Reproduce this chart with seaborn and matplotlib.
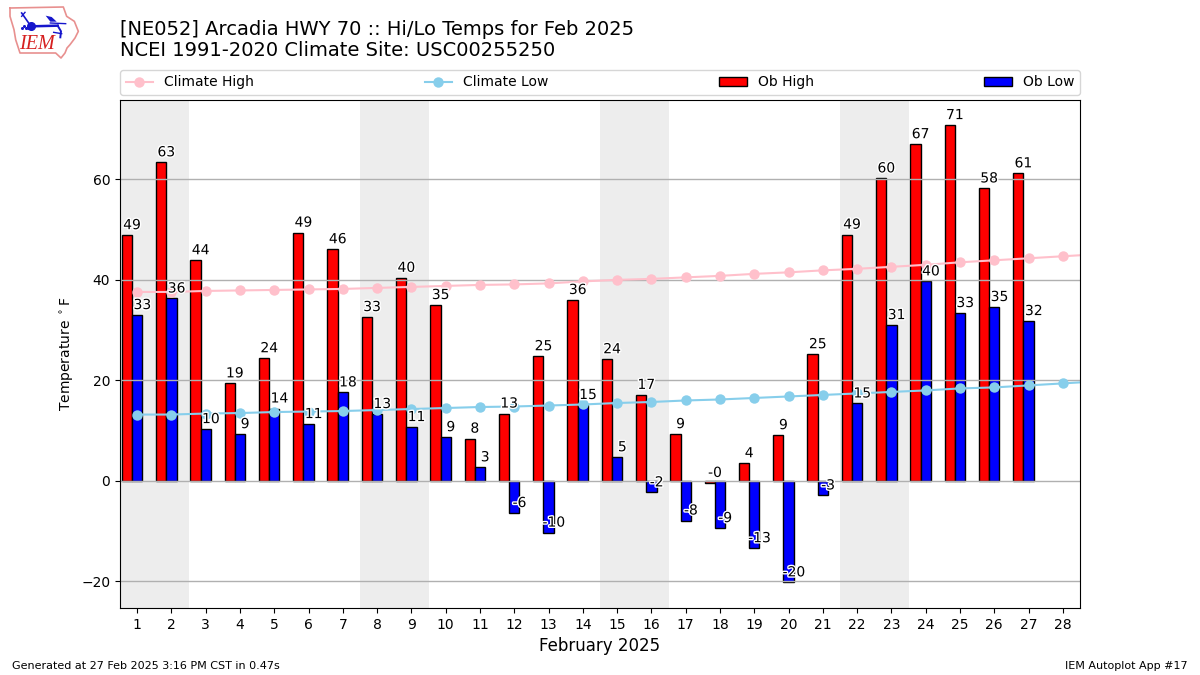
import matplotlib
matplotlib.use("Agg")
import matplotlib.pyplot as plt
import matplotlib.patheffects as pe
import numpy as np
import seaborn as sns

# Feb 2025 obs and climatology
days = np.arange(1, 29)
clim_days = np.arange(1, 30)  # climatology runs one day past the axis
ob_days = days[:27]
ob_high = [48.9, 63.4, 43.9, 19.4, 24.4, 49.4, 46.1, 32.6, 40.4, 35.0, 8.4, 13.4, 24.8, 36.0,
           24.2, 17.1, 9.3, -0.4, 3.5, 9.1, 25.2, 49.0, 60.2, 67.0, 70.8, 58.2, 61.2]
ob_low = [33.0, 36.3, 10.3, 9.3, 14.4, 11.3, 17.6, 13.3, 10.7, 8.7, 2.7, -6.4, -10.3, 15.1,
          4.7, -2.3, -7.9, -9.4, -13.4, -20.2, -2.9, 15.4, 31.0, 39.7, 33.4, 34.6, 31.8]
clim_high = [37.6, 37.6, 37.8, 37.9, 38.0, 38.1, 38.2, 38.4, 38.6, 38.8, 39.0, 39.1, 39.3, 39.7,
             40.0, 40.2, 40.5, 40.8, 41.2, 41.5, 41.9, 42.2, 42.6, 43.0, 43.5, 43.9, 44.3, 44.7, 45.1]
clim_low = [13.2, 13.2, 13.4, 13.5, 13.7, 13.8, 13.9, 14.1, 14.3, 14.5, 14.7, 14.8, 15.0, 15.2,
            15.5, 15.7, 16.0, 16.2, 16.5, 16.8, 17.1, 17.4, 17.7, 18.0, 18.4, 18.6, 19.0, 19.4, 19.8]
weekends = [(0.5, 2.5), (7.5, 9.5), (14.5, 16.5), (21.5, 23.5)]
title = "[NE052] Arcadia HWY 70 :: Hi/Lo Temps for Feb 2025\nNCEI 1991-2020 Climate Site: USC00255250"

W, H = 1200, 675
fig = plt.figure(figsize=(W / 100, H / 100), dpi=100)


def px_axes(x0, y0, x1, y1, **kw):
    return fig.add_axes([x0 / W, 1 - y1 / H, (x1 - x0) / W, (y1 - y0) / H], **kw)


ax = px_axes(120, 100, 1080, 608)

for start, end in weekends:
    ax.axvspan(start, end, color="#ededed", lw=0, zorder=0)

sns.barplot(x=ob_days - 0.3, y=ob_high, native_scale=True, width=0.3, color="red", saturation=1,
            edgecolor="black", linewidth=1, errorbar=None, ax=ax)
sns.barplot(x=ob_days.astype(float), y=ob_low, native_scale=True, width=0.3, color="blue", saturation=1,
            edgecolor="black", linewidth=1, errorbar=None, ax=ax)
bars = [b for b in ax.patches if b.get_facecolor()[:3] in [(1.0, 0.0, 0.0), (0.0, 0.0, 1.0)]]
red_bars = [b for b in bars if b.get_facecolor()[0] == 1.0]
blue_bars = [b for b in bars if b.get_facecolor()[0] == 0.0]
for b in bars:
    b.set_zorder(1)  # gridlines go over the bars

sns.lineplot(x=clim_days, y=clim_high, color="pink", lw=1.5, marker="o", markersize=7.5, markeredgewidth=0, ax=ax)
sns.lineplot(x=clim_days, y=clim_low, color="skyblue", lw=1.5, marker="o", markersize=7.5, markeredgewidth=0, ax=ax)
lines = ax.get_lines()

# value labels sit at the right edge of each bar, just above the value
stroke = [pe.withStroke(linewidth=2, foreground="white")]
for xs, vals, off in [(ob_days, ob_high, -0.15), (ob_days, ob_low, 0.15)]:
    for x, v in zip(xs, vals):
        ax.text(x + off, v + 0.6, f"{v:.0f}", ha="center", va="bottom", fontsize=10, color="black",
                path_effects=stroke, zorder=5)

ax.set_xlim(0.5, 28.5)
ax.set_ylim(-25.3, 75.8)
ax.set_xticks(days)
ax.set_xticklabels([str(d) for d in days])
ax.set_yticks([-20, 0, 20, 40, 60])
ax.grid(False)
ax.grid(axis="y", color="#b0b0b0", lw=1, zorder=1.5)
ax.set_axisbelow("line")
ax.set_xlabel("February 2025", fontsize=12)
ax.set_ylabel("Temperature $^\\circ$F", fontsize=10)

ax.legend([lines[0], lines[1], red_bars[0], blue_bars[0]],
          ["Climate High", "Climate Low", "Ob High", "Ob Low"],
          loc="lower left", bbox_to_anchor=(0, 1.01, 1, 0.05), ncol=4, mode="expand", fontsize=10,
          borderaxespad=0)

fig.text(120 / W, 1 - 60 / H, title, fontsize=14, ha="left", va="bottom", linespacing=1.15)
fig.text(12 / W, 1 - 666 / H, "Generated at 27 Feb 2025 3:16 PM CST in 0.47s", fontsize=8, va="center")
fig.text(1188 / W, 1 - 666 / H, "IEM Autoplot App #17", fontsize=8, ha="right", va="center")

# rough IEM logo, coordinates are px in a 252x174 box
logo = px_axes(5, 3, 89, 61)
logo.set_xlim(0, 252)
logo.set_ylim(174, 0)
logo.axis("off")
state_x = [15, 175, 185, 208, 220, 210, 195, 186, 180, 168, 152, 45, 32, 27, 15, 15]
state_y = [15, 12, 40, 55, 85, 105, 125, 135, 150, 165, 150, 150, 110, 80, 40, 15]
logo.plot(state_x, state_y, color="#e8908f", lw=1.2)
logo.plot([78, 158], [70, 68], color="#1616cc", lw=1.8)
logo.plot([50, 78], [30, 70], color="#1616cc", lw=1.2)
logo.plot([50, 60], [40, 28], color="#1616cc", lw=1)
logo.fill([122, 140, 155, 136], [38, 42, 56, 56], color="#1616cc", lw=0)
logo.plot([136, 182], [60, 62], color="#1616cc", lw=1)
logo.plot([158, 168, 166], [68, 85, 103], color="#1616cc", lw=1.4)
logo.plot([146, 170], [88, 92], color="#1616cc", lw=1)
logo.plot([78], [70], "o", color="#1616cc", ms=5.5)
logo.plot([52, 58, 64, 68], [76, 68, 76, 76], "o", color="#1616cc", ms=1.2)
logo.text(96, 125, "IEM", color="#d62020", fontsize=14.5, family="Liberation Serif", style="italic",
          ha="center", va="center")

fig.savefig("out.png", dpi=100)
